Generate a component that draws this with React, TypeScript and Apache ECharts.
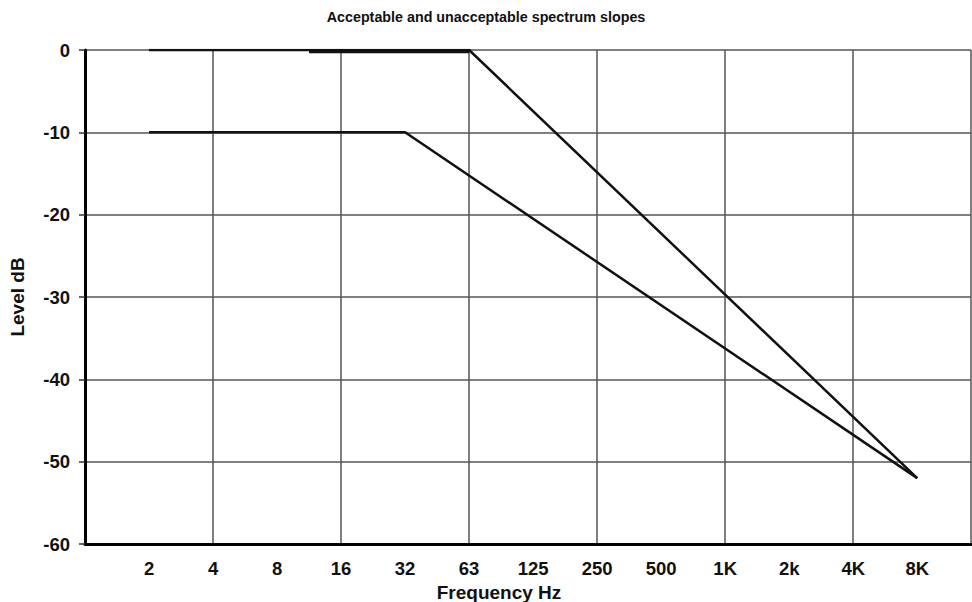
import React, { useEffect, useRef } from "react";
import * as echarts from "echarts";

const freqLabels = ["2", "4", "8", "16", "32", "63", "125", "250", "500", "1K", "2k", "4K", "8K"];
// positions are band indices (1 = "2", 13 = "8K")
const upperSlope: [number, number][] = [[1, 0], [6, 0], [13, -52]];
const upperOverlap: [number, number][] = [[3.5, -0.2], [6, -0.2]];
const lowerSlope: [number, number][] = [[1, -10], [5, -10], [13, -52]];
const levelTicks = [0, -10, -20, -30, -40, -50, -60];

const FONT = "'Liberation Sans', Arial, sans-serif";

export default function App() {
  const ref = useRef<HTMLDivElement>(null);
  useEffect(() => {
    if (!ref.current) return;
    const chart = echarts.init(ref.current, undefined, { renderer: "svg" });
    const xMax = 13.84;
    chart.setOption({
      animation: false,
      backgroundColor: "#ffffff",
      title: {
        text: "Acceptable and unacceptable spectrum slopes",
        left: "center",
        top: 5,
        textStyle: { fontFamily: FONT, fontSize: 14.3, fontWeight: "bold", color: "#111" },
      },
      grid: { left: 85, right: 1, top: 50, bottom: 58, containLabel: false, outerBoundsMode: "none" },
      xAxis: [
        {
          type: "value",
          min: 0,
          max: xMax,
          interval: 1,
          name: "Frequency Hz",
          nameLocation: "middle",
          nameGap: 39,
          nameTextStyle: {
            fontFamily: FONT,
            fontSize: 19,
            fontWeight: "bold",
            color: "#111",
            padding: [0, 58, 0, 0],
          },
          axisLine: { show: true, onZero: false, lineStyle: { color: "#000", width: 3 } },
          axisTick: { show: false },
          splitLine: { show: false },
          axisLabel: {
            margin: 15,
            fontFamily: FONT,
            fontSize: 18.5,
            fontWeight: "bold",
            color: "#111",
            showMinLabel: false,
            showMaxLabel: false,
            formatter: (v: number) => {
              const i = Math.round(v);
              if (Math.abs(v - i) > 1e-6 || i < 1 || i > freqLabels.length) return "";
              return freqLabels[i - 1];
            },
          },
        },
        {
          type: "value",
          min: 0,
          max: xMax,
          interval: 2,
          position: "bottom",
          axisLine: { show: false, onZero: false },
          axisTick: { show: false },
          axisLabel: { show: false },
          splitLine: { show: true, lineStyle: { color: "#555", width: 1.5 } },
        },
      ],
      yAxis: {
        type: "value",
        min: levelTicks[levelTicks.length - 1],
        max: levelTicks[0],
        interval: 10,
        name: "Level dB",
        nameLocation: "middle",
        nameGap: 58,
        nameTextStyle: { fontFamily: FONT, fontSize: 19, fontWeight: "bold", color: "#111" },
        axisLine: { show: true, onZero: false, lineStyle: { color: "#000", width: 3 } },
        axisTick: { show: true, length: 6, lineStyle: { color: "#333", width: 1.5 } },
        splitLine: { show: true, lineStyle: { color: "#555", width: 1.5 } },
        axisLabel: {
          margin: 15,
          fontFamily: FONT,
          fontSize: 18.5,
          fontWeight: "bold",
          color: "#111",
        },
      },
      series: [
        {
          name: "Upper slope",
          type: "line",
          data: upperSlope,
          showSymbol: false,
          symbol: "none",
          lineStyle: { color: "#111", width: 2.5 },
          z: 5,
        },
        {
          name: "Upper overlap",
          type: "line",
          data: upperOverlap,
          showSymbol: false,
          symbol: "none",
          lineStyle: { color: "#111", width: 3 },
          z: 5,
        },
        {
          name: "Lower slope",
          type: "line",
          data: lowerSlope,
          showSymbol: false,
          symbol: "none",
          lineStyle: { color: "#111", width: 2.5 },
          z: 5,
        },
      ],
    });
    return () => chart.dispose();
  }, []);
  return (
    <div
      ref={ref}
      style={{ position: "fixed", left: 0, top: 0, width: 972, height: 602, background: "#fff" }}
    />
  );
}
